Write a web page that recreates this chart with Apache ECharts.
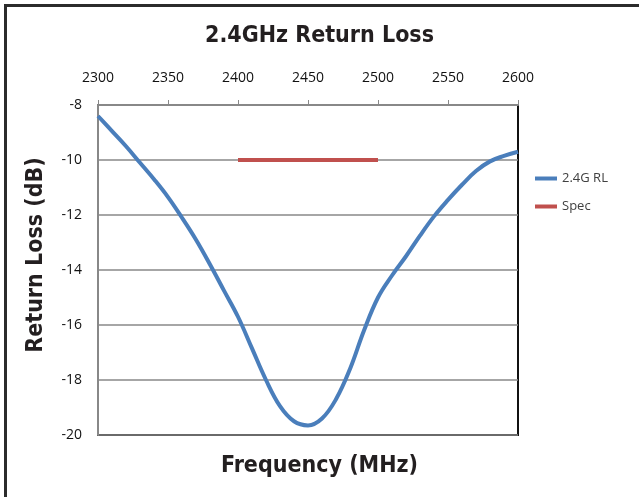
<!DOCTYPE html>
<html><head><meta charset="utf-8">
<script src="https://cdn.jsdelivr.net/npm/echarts@6/dist/echarts.min.js"></script>
<style>html,body{margin:0;padding:0;background:#fff}#c{width:639px;height:497px}</style>
</head><body><div id="c"></div>
<script>
var freqs = [2300,2310,2320,2330,2340,2350,2360,2370,2380,2390,2400,2410,2420,2430,2440,2450,2460,2470,2480,2490,2500,2510,2520,2530,2540,2550,2560,2570,2580,2590,2600];
var rlValues = [-8.4,-8.95,-9.5,-10.1,-10.7,-11.35,-12.1,-12.9,-13.8,-14.75,-15.7,-16.85,-18.0,-18.95,-19.5,-19.65,-19.4,-18.7,-17.6,-16.2,-15.0,-14.2,-13.5,-12.75,-12.05,-11.45,-10.9,-10.4,-10.05,-9.85,-9.7];
var specFreqs = [2400, 2500];
var specValues = [-10, -10];
var seriesNames = ['2.4G RL', 'Spec'];
var titleText = '2.4GHz Return Loss';
var xName = 'Frequency (MHz)';
var yName = 'Return Loss (dB)';

var chart = echarts.init(document.getElementById('c'));
var boldFont = "'DejaVu Sans Condensed', 'Liberation Sans Narrow', sans-serif";
chart.setOption({
  animation: false,
  backgroundColor: '#fff',
  title: [{
    text: titleText, left: 'center', top: 20,
    textStyle: {fontFamily: boldFont, fontWeight: 'bold', fontSize: 23, color: '#231f20'}
  }, {
    text: xName, left: 'center', top: 450,
    textStyle: {fontFamily: boldFont, fontWeight: 'bold', fontSize: 23, color: '#231f20'}
  }],
  graphic: [{
    type: 'rect', left: 3, top: 3, shape: {x: 0, y: 0, width: 700, height: 600},
    style: {fill: 'none', stroke: '#2b2b2b', lineWidth: 3}, silent: true
  }, {
    type: 'text', x: 36, y: 255, rotation: Math.PI / 2,
    style: {text: yName, fontFamily: boldFont, fontWeight: 'bold', fontSize: 23, fill: '#231f20', align: 'center', verticalAlign: 'middle'},
    silent: true
  }],
  legend: {
    orient: 'vertical', left: 530, top: 167, itemGap: 15,
    itemWidth: 22, itemHeight: 4, icon: 'rect',
    textStyle: {fontFamily: "'Open Sans', sans-serif", fontSize: 13, color: '#404040'},
    data: seriesNames
  },
  grid: {
    left: 98, right: 121, top: 105, bottom: 62, show: true,
    borderColor: '#111', borderWidth: 2, backgroundColor: '#fff'
  },
  xAxis: {
    type: 'value', position: 'top', min: 2300, max: 2600, interval: 50,
    axisLine: {lineStyle: {color: '#888', width: 2}},
    axisTick: {show: true, length: 5, lineStyle: {color: '#888', width: 1}},
    axisLabel: {fontFamily: "'Open Sans', sans-serif", fontSize: 14, color: '#111', margin: 20,
      formatter: function(v){ return String(v); }},
    splitLine: {show: false}
  },
  yAxis: {
    type: 'value', min: -20, max: -8, interval: 2,
    axisLine: {show: true, lineStyle: {color: '#888', width: 2}},
    axisTick: {show: false},
    axisLabel: {fontFamily: "'Open Sans', sans-serif", fontSize: 14, color: '#111', margin: 16},
    splitLine: {show: true, lineStyle: {color: '#888', width: 1.5}}
  },
  series: [{
    name: seriesNames[0], type: 'line', smooth: 0.4, showSymbol: false, symbol: 'none',
    data: freqs.map(function(f, i){ return [f, rlValues[i]]; }),
    lineStyle: {color: '#4a7ebb', width: 4}, itemStyle: {color: '#4a7ebb'}, z: 3
  }, {
    name: seriesNames[1], type: 'line', showSymbol: false, symbol: 'none',
    data: specFreqs.map(function(f, i){ return [f, specValues[i]]; }),
    lineStyle: {color: '#c0504d', width: 4}, itemStyle: {color: '#c0504d'}, z: 2
  }]
});
</script>
</body></html>
